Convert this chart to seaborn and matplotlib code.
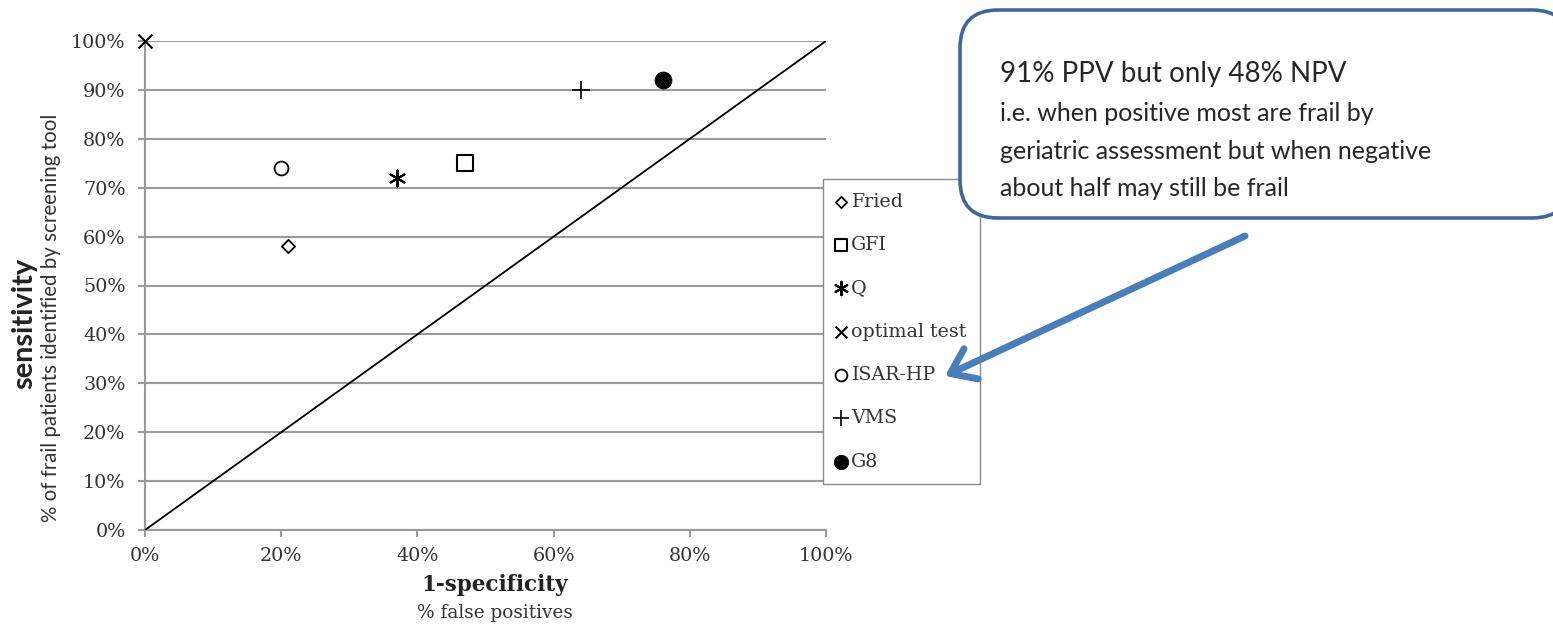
import numpy as np
import matplotlib.pyplot as plt
import seaborn as sns
import pandas as pd
from matplotlib.patches import FancyBboxPatch, FancyArrowPatch
from matplotlib.ticker import PercentFormatter

# screening tools: 1-specificity (false positives) vs sensitivity
tests = ['Fried', 'GFI', 'Q', 'optimal test', 'ISAR-HP', 'VMS', 'G8']
false_positive_rate = [0.21, 0.47, 0.37, 0.00, 0.20, 0.64, 0.76]
sensitivity = [0.58, 0.75, 0.72, 1.00, 0.74, 0.90, 0.92]

# reference diagonal (chance line)
diag_x = [0, 1]
diag_y = [0, 1]

x_ticks = [0, 0.2, 0.4, 0.6, 0.8, 1.0]
y_ticks = [0, 0.1, 0.2, 0.3, 0.4, 0.5, 0.6, 0.7, 0.8, 0.9, 1.0]

callout_title = '91% PPV but only 48% NPV'
callout_body = ('i.e. when positive most are frail by\n'
                'geriatric assessment but when negative\n'
                'about half may still be frail')

screen_df = pd.DataFrame({'test': tests,
                          'fpr': false_positive_rate,
                          'sens': sensitivity})

sns.set_style('white')
plt.rcParams['font.family'] = ['DejaVu Serif']

marker_style = {
    'Fried': dict(marker='D', s=45, color='white', edgecolor='black', linewidth=1.3),
    'GFI': dict(marker='s', s=120, color='white', edgecolor='black', linewidth=1.5),
    'Q': dict(marker=(6, 2, 0), s=130, color='black', linewidth=1.5),
    'optimal test': dict(marker='x', s=100, color='black', linewidth=1.5),
    'ISAR-HP': dict(marker='o', s=100, color='white', edgecolor='black', linewidth=1.3),
    'VMS': dict(marker='+', s=170, color='black', linewidth=1.2),
    'G8': dict(marker='o', s=150, color='black', edgecolor='black', linewidth=0.5),
}

fig = plt.figure(figsize=(15.53, 6.28), dpi=100)
ax = fig.add_axes([145 / 1553, 1 - 530 / 628, 681 / 1553, 489 / 628])

grid_grey = '#9a9a9a'

sns.lineplot(x=diag_x, y=diag_y, color='black', linewidth=1.3, ax=ax, zorder=3)

for _, row in screen_df.iterrows():
    sns.scatterplot(x=[row['fpr']], y=[row['sens']], label=row['test'],
                    ax=ax, clip_on=False, zorder=4, **marker_style[row['test']])

ax.set_xlim(0, 1)
ax.set_ylim(0, 1)
ax.set_xticks(x_ticks)
ax.set_yticks(y_ticks)
ax.xaxis.set_major_formatter(PercentFormatter(1.0, decimals=0))
ax.yaxis.set_major_formatter(PercentFormatter(1.0, decimals=0))
ax.set_xlabel('')
ax.set_ylabel('')

ax.yaxis.grid(True, color=grid_grey, linewidth=1.5)
ax.xaxis.grid(False)
ax.set_axisbelow(True)
for side in ['top', 'right']:
    ax.spines[side].set_visible(False)
for side in ['left', 'bottom']:
    ax.spines[side].set_color(grid_grey)
    ax.spines[side].set_linewidth(1.5)

ax.tick_params(axis='y', length=5, width=1.5, color=grid_grey, labelsize=13.8,
               labelcolor='#333333', pad=9, left=True)
ax.tick_params(axis='x', length=5, width=1.5, color=grid_grey, labelsize=13.8,
               labelcolor='#333333', pad=7, bottom=True)

# axis titles (two lines each, bold + regular)
fig.text(24 / 1553, 1 - 323 / 628, 'sensitivity', rotation=90, fontsize=20.8,
         fontweight='bold', family='Lato', ha='center', va='center', color='#222222')
fig.text(51 / 1553, 1 - 318 / 628, '% of frail patients identified by screening tool',
         rotation=90, fontsize=14.8, family='Lato', ha='center', va='center',
         color='#333333')
fig.text(495 / 1553, 1 - 585 / 628, '1-specificity', fontsize=15.5,
         fontweight='bold', ha='center', va='center', color='#222222')
fig.text(495 / 1553, 1 - 613 / 628, '% false positives', fontsize=13.3,
         ha='center', va='center', color='#333333')

leg = ax.legend(loc='upper left', bbox_to_anchor=(823 / 1553, 1 - 179 / 628),
                bbox_transform=fig.transFigure, frameon=True, fancybox=False,
                framealpha=1, edgecolor='#8c8c8c', fontsize=13.7,
                labelspacing=1.33, handlelength=0.5, handletextpad=0.25,
                borderpad=0.72, borderaxespad=0, markerscale=0.85)
leg.get_frame().set_linewidth(1.0)
for t in leg.get_texts():
    t.set_color('#333333')

# callout box and arrow
box = FancyBboxPatch((9.60, 4.10), 6.10, 2.08,
                     boxstyle='round,pad=0,rounding_size=0.38',
                     transform=fig.dpi_scale_trans, facecolor='white',
                     edgecolor='#41679a', linewidth=2.6, zorder=5)
fig.add_artist(box)
fig.text(10.0, 5.54, callout_title, transform=fig.dpi_scale_trans,
         fontsize=20, family='Lato', ha='left', va='center', zorder=6)
fig.text(10.0, 4.77, callout_body, transform=fig.dpi_scale_trans,
         fontsize=18, family='Lato', ha='left', va='center', linespacing=1.75, zorder=6)

arrow = FancyArrowPatch((12.45, 3.92), (9.45, 2.52), transform=fig.dpi_scale_trans,
                        arrowstyle='->,head_length=0.55,head_width=0.4',
                        mutation_scale=30, color='#4a7ebb', linewidth=5,
                        shrinkA=0, shrinkB=0, zorder=6)
fig.add_artist(arrow)

fig.savefig('out.png', dpi=100)
